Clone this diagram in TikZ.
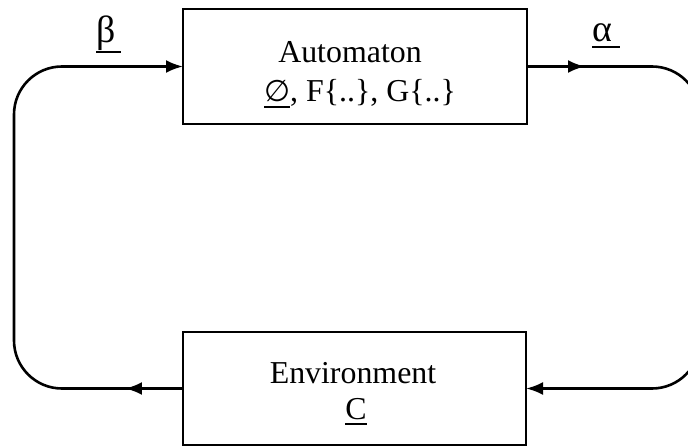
\documentclass[tikz,border=0pt]{standalone}
\usepackage{fontspec}
\setmainfont{Liberation Serif}
\newfontfamily\symfnt{DejaVu Sans}
\usetikzlibrary{arrows.meta,decorations.markings}
\newcommand{\myul}[2]{\setbox0\hbox{#2}\leavevmode\rlap{\rule[-#1]{\wd0}{2pt}}\box0}
\tikzset{
  box/.style={draw, line width=2.6bp, rectangle, inner sep=0pt, outer sep=0pt},
  lbl/.style={inner sep=0pt, anchor=base, font=\fontsize{32}{38}\selectfont},
  greek/.style={inner sep=0pt, anchor=base west, font=\fontsize{38}{44}\selectfont},
  conn/.style={line width=2.6bp, rounded corners=48bp, -{Latex[length=17bp,width=13bp]}},
  midarrow/.style={postaction={decorate}, decoration={markings,
     mark=at position #1 with {\arrow{Latex[length=17bp,width=13bp]}}}}
}
\begin{document}
\begin{tikzpicture}[x=1bp,y=-1bp]
\clip (0,0) rectangle (688,447);
\node[box, minimum width=344bp, minimum height=115bp] (aut) at (355,66.5) {};
\node[box, minimum width=343bp, minimum height=113bp] (env) at (354.5,388.5) {};
\node[lbl] (autname) at (350,62.5) {Automaton};
\node[lbl] (autsets) at (360,102) {\myul{6pt}{\symfnt\fontsize{30}{36}\selectfont ∅}, F\{..\}, G\{..\}};
\node[lbl] (envname) at (353,383) {Environment};
\node[lbl] (envc) at (356,419) {\myul{6pt}{C}};
\node[greek] (beta) at (96,43) {\myul{10pt}{β\hspace{6pt}}};
\node[greek] (alpha) at (592,42) {\myul{6pt}{α\hspace{8pt}}};
\coordinate (lb) at (14,388.5);
\coordinate (lt) at (14,66.5);
\coordinate (rt) at (700,66.5);
\coordinate (rb) at (700,388.5);
\draw[conn, midarrow=58bp] (env.west) -- (lb) -- (lt) -- (aut.west);
\draw[conn, midarrow=58bp] (aut.east) -- (rt) -- (rb) -- (env.east);
\end{tikzpicture}
\end{document}
